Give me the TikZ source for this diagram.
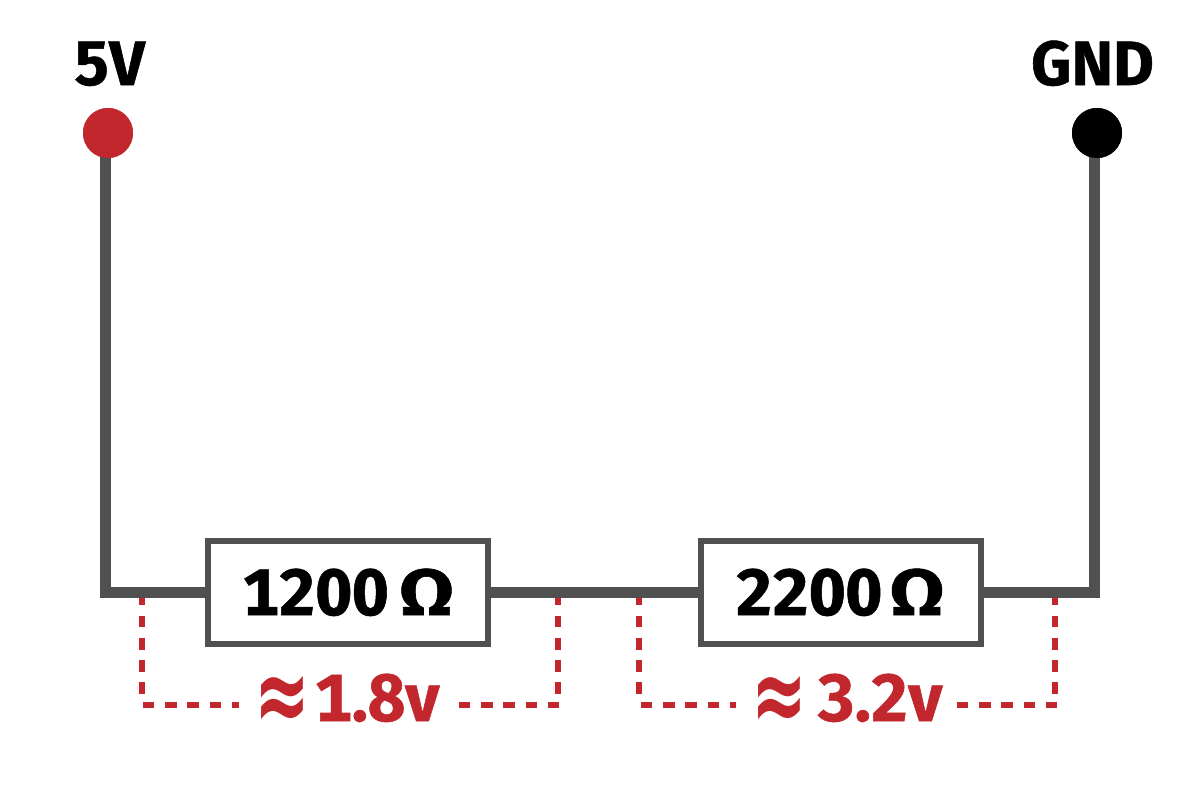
\documentclass[tikz,border=0pt]{standalone}
\usepackage{fontspec}
\setmainfont{Fira Sans}[BoldFont={Fira Sans Bold},BoldFeatures={FakeBold=0.8},Numbers={Lining,Monospaced}]
\newfontfamily\approxfont{DejaVu Sans Bold}
\definecolor{wire}{HTML}{505050}
\definecolor{vred}{HTML}{C1272D}
\tikzset{
 wireline/.style={draw=wire,line width=8.25pt,line join=miter},
 resbox/.style={draw=wire,fill=white,line width=4.1pt,minimum width=210pt,minimum height=77pt,inner sep=0pt,anchor=center},
 dashv/.style={draw=vred,line width=4.4pt,dash pattern=on 8.7pt off 8pt},
 lab/.style={inner sep=0pt,anchor=base,font=\bfseries\fontsize{47}{50}\selectfont},
 reslab/.style={inner sep=0pt,anchor=base,font=\bfseries\fontsize{49}{50}\selectfont},
 ohm/.style={inner sep=0pt,anchor=base,font=\bfseries\fontsize{49}{50}\selectfont,xscale=1.22,transform shape},
 vlab/.style={inner sep=0pt,anchor=base,text=vred,font=\bfseries\fontsize{50}{50}\selectfont},
 approxlab/.style={inner sep=0pt,anchor=center,text=vred,font=\approxfont\fontsize{50}{50}\selectfont,yscale=1.6,transform shape},
 term/.style={circle,minimum size=37.5pt,inner sep=0pt},
}
\begin{document}
\begin{tikzpicture}[x=0.75pt,y=-0.75pt]
\useasboundingbox[fill=white] (0,0) rectangle (1200,794);
\coordinate (wl) at (105.5,592.5);
\coordinate (wr) at (1094.5,592.5);
\foreach \n/\x in {a/142,b/558,c/639,d/1055}{
  \coordinate (top\n) at (\x,593.4);
  \coordinate (bot\n) at (\x,694.6);
}
\coordinate (ha1) at (142.7,705); \coordinate (ha2) at (239,705);
\coordinate (hb1) at (458.7,705); \coordinate (hb2) at (561,705);
\coordinate (hc1) at (640.7,705); \coordinate (hc2) at (736,705);
\coordinate (hd1) at (956.7,705); \coordinate (hd2) at (1057.7,705);
\foreach \n in {a,b,c,d}{\draw[dashv] (top\n) -- (bot\n);}
\foreach \n in {a,b,c,d}{\draw[dashv] (h\n1) -- (h\n2);}
\node[term,fill=vred] (vcc) at (108,133) {};
\node[term,fill=black] (gnd) at (1097,133) {};
\node[resbox] (r1) at (348,592.5) {};
\node[resbox] (r2) at (841,592.5) {};
\coordinate (vt) at (105.5,140);
\coordinate (gt) at (1094.5,140);
\draw[wireline] (vt) -- (wl) -- (r1.west);
\draw[wireline] (r1.east) -- (r2.west);
\draw[wireline] (r2.east) -- (wr) -- (gt);
\node[resbox] at (r1) {};
\node[resbox] at (r2) {};
\node[term,fill=vred] at (vcc) {};
\node[term,fill=black] at (gnd) {};
\node[reslab] (t1) at (315.5,615) {1200};
\node[ohm] (o1) at (426.5,615) {Ω};
\node[reslab] (t2) at (809,615) {2200};
\node[ohm] (o2) at (917,615) {Ω};
\node[lab] (t5) at (109.5,85) {5V};
\node[lab] (tg) at (1092.5,85) {GND};
\node[approxlab] (a1) at (282.5,704) {≈};
\node[vlab] (v1) at (377,721) {1.8v};
\node[approxlab] (a2) at (779.7,704) {≈};
\node[vlab] (v2) at (880,721) {3.2v};
\end{tikzpicture}
\end{document}
